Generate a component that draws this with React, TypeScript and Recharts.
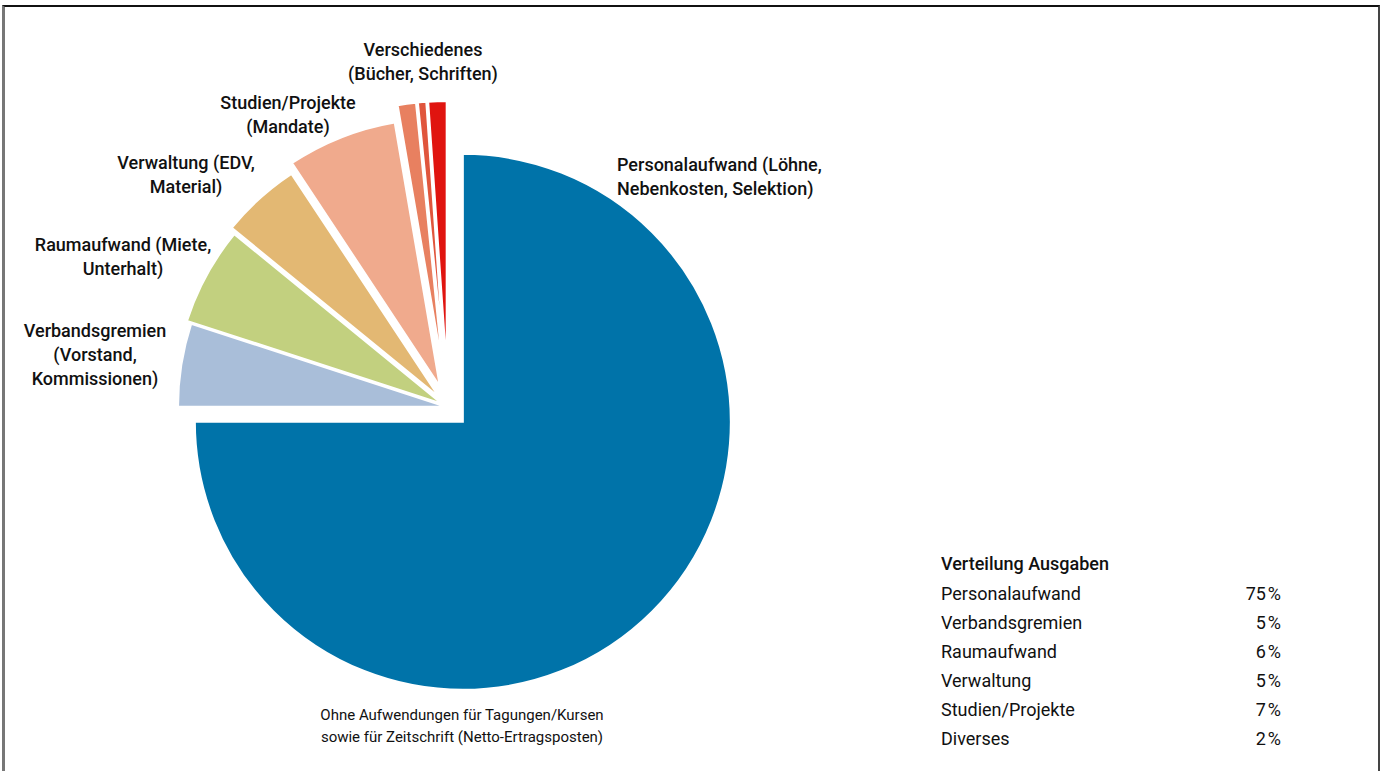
import React from "react";
import { PieChart, Pie, Cell } from "recharts";

// slices, clockwise from 12 o'clock
const categories = [
  "Personalaufwand",
  "Verbandsgremien",
  "Raumaufwand",
  "Verwaltung",
  "Studien/Projekte",
  "Verschiedenes 1",
  "Verschiedenes 2",
  "Verschiedenes 3",
];
const sliceValues = [75, 5.0, 5.9, 4.8, 6.6, 1.1, 0.5, 1.1];

const sliceLabels = [
  ["Personalaufwand (Löhne,", "Nebenkosten, Selektion)"],
  ["Verbandsgremien", "(Vorstand,", "Kommissionen)"],
  ["Raumaufwand (Miete,", "Unterhalt)"],
  ["Verwaltung (EDV,", "Material)"],
  ["Studien/Projekte", "(Mandate)"],
  ["Verschiedenes", "(Bücher, Schriften)"],
];

const legendTitle = "Verteilung Ausgaben";
const legendNames = [
  "Personalaufwand",
  "Verbandsgremien",
  "Raumaufwand",
  "Verwaltung",
  "Studien/Projekte",
  "Diverses",
];
const legendShares = [75, 5, 6, 5, 7, 2];

const footnote = [
  "Ohne Aufwendungen für Tagungen/Kursen",
  "sowie für Zeitschrift (Netto-Ertragsposten)",
];

const COLORS = [
  "#0073a9",
  "#a9bed9",
  "#c2d07f",
  "#e3b873",
  "#f0aa8d",
  "#e88060",
  "#e0553c",
  "#e0140f",
];
// how far each slice is pulled out from the centre
const EXPLODE = [21, 2, 7, 13, 22, 38, 38, 38];

const W = 1384;
const H = 771;
const CX = 448;
const CY = 407;
const R = 268;

// label anchor points (x, first line y, text anchor)
const LABEL_POS: [number, number, "start" | "middle"][] = [
  [617, 171, "start"],
  [95, 337, "middle"],
  [123, 251, "middle"],
  [186, 169, "middle"],
  [288, 109, "middle"],
  [423, 56, "middle"],
];

const FONT = "Roboto, 'Liberation Sans', sans-serif";

const data = categories.map((name, i) => ({ name, value: sliceValues[i] }));
const total = sliceValues.reduce((a, b) => a + b, 0);
let acc = 0;
const midAngles = sliceValues.map((v) => {
  const s = 90 - (360 * acc) / total;
  acc += v;
  const e = 90 - (360 * acc) / total;
  return (s + e) / 2;
});

export default function App() {
  return (
    <div style={{ position: "relative", width: W, height: H, overflow: "hidden", background: "#fff" }}>
      <style>{`body{margin:0}`}</style>
      <PieChart width={W} height={H} margin={{ top: 0, right: 0, bottom: 0, left: 0 }}>
        {data.map((_, k) => {
          const rad = (midAngles[k] * Math.PI) / 180;
          return (
            <Pie
              key={k}
              data={data}
              dataKey="value"
              cx={CX + EXPLODE[k] * Math.cos(rad)}
              cy={CY - EXPLODE[k] * Math.sin(rad)}
              outerRadius={R}
              innerRadius={0}
              startAngle={90}
              endAngle={-270}
              isAnimationActive={false}
              label={false}
              labelLine={false}
            >
              {data.map((__, i) => (
                <Cell
                  key={`cell-${i}`}
                  fill={i === k ? COLORS[i] : "none"}
                  stroke={i === k ? "#ffffff" : "none"}
                  strokeWidth={2}
                />
              ))}
            </Pie>
          );
        })}
      </PieChart>

      <svg
        width={W}
        height={H}
        style={{ position: "absolute", left: 0, top: 0, pointerEvents: "none" }}
        fontFamily={FONT}
      >
        {sliceLabels.map((lines, i) => (
          <text
            key={i}
            x={LABEL_POS[i][0]}
            y={LABEL_POS[i][1]}
            textAnchor={LABEL_POS[i][2]}
            fontSize={18}
            fontWeight={500}
            fill="#111"
          >
            {lines.map((t, j) => (
              <tspan key={j} x={LABEL_POS[i][0]} dy={j === 0 ? 0 : 24}>
                {t}
              </tspan>
            ))}
          </text>
        ))}

        {/* legend table */}
        <text x={941} y={570} fontSize={18} fontWeight={500} fill="#111">
          {legendTitle}
        </text>
        {legendNames.map((n, i) => (
          <g key={n}>
            <text x={941} y={600 + i * 29} fontSize={18} fill="#111">
              {n}
            </text>
            <text x={1281} y={600 + i * 29} fontSize={18} fill="#111" textAnchor="end">
              {`${legendShares[i]}\u200A%`}
            </text>
          </g>
        ))}

        {footnote.map((t, i) => (
          <text key={i} x={462} y={720 + i * 22} fontSize={15} fill="#111" textAnchor="middle">
            {t}
          </text>
        ))}
      </svg>

      {/* frame */}
      <div
        style={{
          position: "absolute",
          left: 2,
          top: 5,
          width: 1373,
          height: 800,
          borderTop: "2px solid #111",
          borderLeft: "3px solid #777",
          borderRight: "2px solid #444",
          pointerEvents: "none",
        }}
      />
    </div>
  );
}
